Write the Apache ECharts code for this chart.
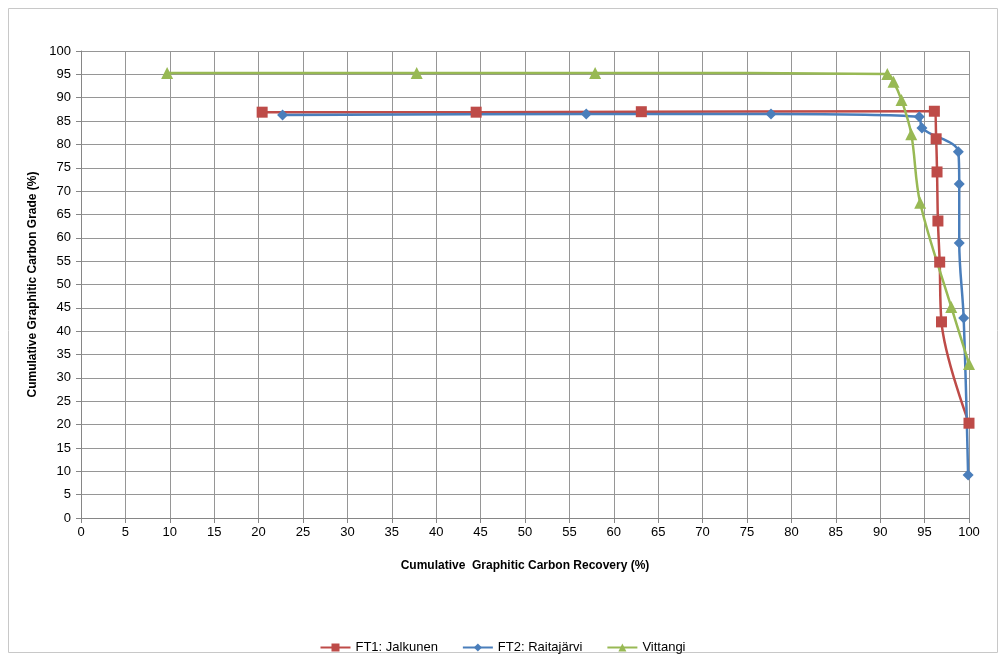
<!DOCTYPE html>
<html><head><meta charset="utf-8">
<script src="https://cdn.jsdelivr.net/npm/echarts@6/dist/echarts.min.js"></script>
<style>html,body{margin:0;padding:0;background:#fff}#c{width:1005px;height:661px}</style>
</head><body><div id="c"></div>
<script>
const jalkunenX = [20.4, 44.5, 63.1, 96.1, 96.3, 96.4, 96.5, 96.7, 96.9, 100];
const jalkunenY = [86.9, 86.9, 87.0, 87.1, 81.2, 74.1, 63.6, 54.8, 42.0, 20.3];
const raitaX = [22.7, 56.9, 77.7, 94.4, 94.7, 98.8, 98.9, 98.9, 99.4, 99.9];
const raitaY = [86.3, 86.5, 86.5, 85.9, 83.5, 78.4, 71.5, 58.9, 42.8, 9.2];
const vittX = [9.7, 37.8, 57.9, 90.8, 91.5, 92.4, 93.5, 94.5, 98.0, 100];
const vittY = [95.3, 95.3, 95.3, 95.1, 93.4, 89.5, 82.2, 67.5, 45.2, 33.0];
const seriesNames = ['FT1: Jalkunen', 'FT2: Raitajärvi', 'Vittangi'];
const zip = (a, b) => a.map((v, i) => [v, b[i]]);

const chart = echarts.init(document.getElementById('c'));
const font = 'Liberation Sans, Arial, sans-serif';
chart.setOption({
  animation: false,
  textStyle: {fontFamily: font},
  graphic: [{type: 'rect', shape: {x: 8.5, y: 8.5, width: 989, height: 644}, style: {fill: 'none', stroke: '#c8c8c8', lineWidth: 1}, silent: true}],
  grid: {left: 81, right: 36, top: 51, bottom: 143},
  xAxis: {
    type: 'value', min: 0, max: 100, interval: 5,
    name: 'Cumulative  Graphitic Carbon Recovery (%)', nameLocation: 'middle', nameGap: 42,
    nameTextStyle: {fontWeight: 'bold', fontSize: 12, color: '#000', fontFamily: font},
    axisLine: {lineStyle: {color: '#868686'}},
    axisTick: {show: true, length: 5, lineStyle: {color: '#868686'}},
    axisLabel: {color: '#000', fontSize: 13, margin: 8},
    splitLine: {lineStyle: {color: '#969696', width: 1}}
  },
  yAxis: {
    type: 'value', min: 0, max: 100, interval: 5,
    name: 'Cumulative Graphitic Carbon Grade (%)', nameLocation: 'middle', nameGap: 40,
    nameTextStyle: {fontWeight: 'bold', fontSize: 12, color: '#000', fontFamily: font},
    axisLine: {show: true, lineStyle: {color: '#868686'}},
    axisTick: {show: true, length: 5, lineStyle: {color: '#868686'}},
    axisLabel: {color: '#000', fontSize: 13, margin: 10},
    splitLine: {lineStyle: {color: '#969696', width: 1}}
  },
  legend: {
    bottom: 2, left: 'center', itemGap: 24, itemWidth: 30, itemHeight: 10,
    textStyle: {fontSize: 13, color: '#000', fontFamily: font},
    data: seriesNames
  },
  series: [
    {name: seriesNames[0], type: 'line', smooth: 0.35, data: zip(jalkunenX, jalkunenY),
     symbol: 'rect', symbolSize: 11, itemStyle: {color: '#BE4B48'}, lineStyle: {width: 2.5, color: '#BE4B48'}},
    {name: seriesNames[1], type: 'line', smooth: 0.35, data: zip(raitaX, raitaY),
     symbol: 'diamond', symbolSize: 11, itemStyle: {color: '#4A7EBB'}, lineStyle: {width: 2.5, color: '#4A7EBB'}},
    {name: seriesNames[2], type: 'line', smooth: 0.35, data: zip(vittX, vittY),
     symbol: 'triangle', symbolSize: 12, itemStyle: {color: '#98B954'}, lineStyle: {width: 2.5, color: '#98B954'}}
  ]
});
</script></body></html>
